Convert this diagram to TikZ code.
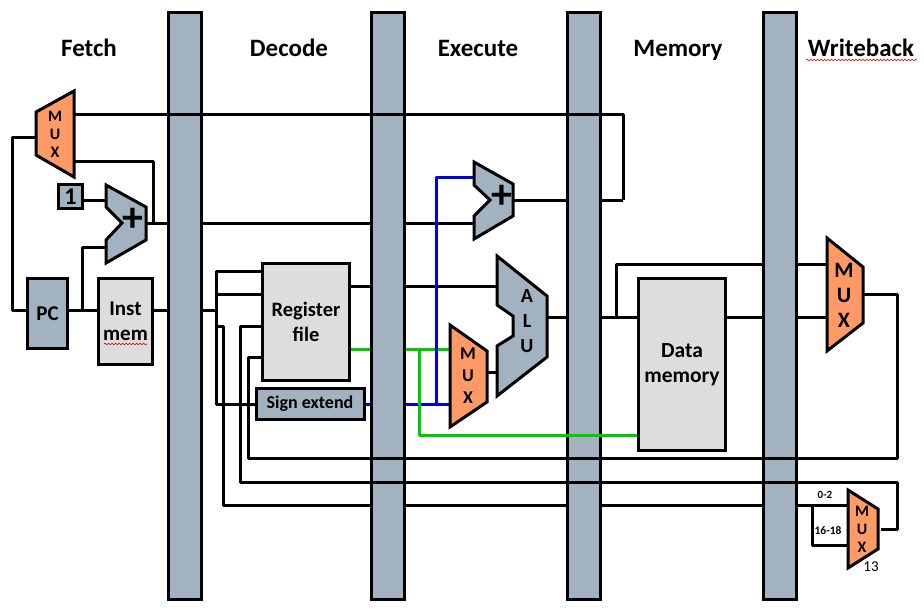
\documentclass[tikz,border=0pt]{standalone}
\usepackage{fontspec}
\setmainfont{Carlito}
\usetikzlibrary{decorations.pathmorphing}
\definecolor{slate}{HTML}{A3B2C1}
\definecolor{orng}{HTML}{FF9966}
\definecolor{lgray}{HTML}{DDDDDD}
\definecolor{grn}{HTML}{00CC00}
\definecolor{blu}{HTML}{0000E6}
\newcommand{\lowr}[1]{\raisebox{-2pt}{#1}}
\tikzset{
  wire/.style={draw=black,line width=3pt,line join=round},
  gwire/.style={draw=grn,line width=3pt,line join=round},
  bwire/.style={draw=blu,line width=3pt,line join=round},
  boxn/.style={draw=black,line width=3pt,inner sep=0pt,align=center,font=\bfseries},
  pipebar/.style={boxn,fill=slate,minimum width=33pt,minimum height=587pt},
  slatebox/.style={boxn,fill=slate},
  graybox/.style={boxn,fill=lgray},
  slatepoly/.style={draw=black,line width=3pt,fill=slate,line join=miter},
  orngpoly/.style={draw=black,line width=3pt,fill=orng,line join=miter},
  title/.style={inner sep=0pt,anchor=base,font=\fontsize{25}{27}\selectfont\bfseries},
  muxlabel/.style={inner sep=0pt,align=center,font=\bfseries},
  squiggle/.style={draw=red!80!black,line width=0.6pt,decorate,decoration={snake,amplitude=0.8pt,segment length=3.5pt}}
}
\begin{document}
\begin{tikzpicture}[x=1pt,y=-1pt]
\useasboundingbox (0,0) rectangle (924,611);
% ports
\coordinate (fmO) at (74,114);
\coordinate (fmA) at (74,161);
\coordinate (fmS) at (35,137);
\coordinate (faO) at (146,223);
\coordinate (faA) at (106,200);
\coordinate (faB) at (106,247);
\coordinate (eaA) at (474,177);
\coordinate (eaB) at (474,223);
\coordinate (eaO) at (513,200);
\coordinate (alA) at (497,286);
\coordinate (alB) at (497,372);
\coordinate (alO) at (547,317);
\coordinate (emA) at (450,349);
\coordinate (emB) at (450,404);
\coordinate (emO) at (487,372);
\coordinate (wmA) at (827,264);
\coordinate (wmB) at (827,317);
\coordinate (wmO) at (863,294);
\coordinate (smA) at (848,505);
\coordinate (smB) at (848,545);
\coordinate (smO) at (881,529);
\coordinate (j1) at (216,310);
\coordinate (j2) at (616,317);
\coordinate (j3) at (812,505);
\coordinate (j4) at (82,310);
\coordinate (j5) at (153,223);
\coordinate (j6) at (436,404);
\coordinate (j7) at (419,349);
% named blocks are placed first as empty reference nodes
\path node[minimum width=40pt,minimum height=70pt,inner sep=0pt,outer sep=0pt] (pc) at (47.5,313.5) {}
      node[minimum width=54pt,minimum height=86pt,inner sep=0pt,outer sep=0pt] (inst) at (125.5,321.5) {}
      node[minimum width=24pt,minimum height=24pt,inner sep=0pt,outer sep=0pt] (one) at (70.5,196.5) {}
      node[minimum width=87pt,minimum height=117pt,inner sep=0pt,outer sep=0pt] (reg) at (306,322) {}
      node[minimum width=108pt,minimum height=31pt,inner sep=0pt,outer sep=0pt] (sign) at (310,404) {}
      node[minimum width=87pt,minimum height=172pt,inner sep=0pt,outer sep=0pt] (dmem) at (682,364.5) {};
% connectors that pass behind the pipeline bars
\draw[wire] (faO) -- (faO -| 168,0);
\draw[wire] (fmA) -- (fmA -| j5) -- (j5);
\draw[wire] (fmS) -- (12,137) -- (12,310) -- (pc.west |- j1);
\draw[wire] (one.east |- faA) -- (faA);
\draw[wire] (pc.east |- j4) -- (inst.west |- j4);
\draw[wire] (j4) -- (j4 |- faB) -- (faB);
\draw[wire] (inst.east |- j1) -- (j1);
\draw[wire] (201,223) -- (eaB);
\draw[wire] (reg.west |- 0,271) -- (216,271) -- (216,404) -- (sign.west |- 0,404);
\draw[wire] (216,294) -- (reg.west |- 0,294);
\draw[wire] (216,326) -- (223,326) -- (223,505) -- (smA);
\draw[wire] (j3) -- (j3 |- smB) -- (smB);
\draw[wire] (reg.east |- alA) -- (alA);
\draw[wire] (eaO) -- (623,200);
\draw[wire] (alO) -- (dmem.west |- alO);
\draw[wire] (j2) -- (j2 |- wmA) -- (wmA);
\draw[wire] (dmem.east |- wmB) -- (wmB);
\draw[wire] (emO) -- (alB);
\draw[bwire] (sign.east |- emB) -- (emB);
\draw[gwire] (reg.east |- emA) -- (emA);
% pipeline bars
\node[pipebar] (bar1) at (185,305.5) {};
\node[pipebar] (bar2) at (388,305.5) {};
\node[pipebar] (bar3) at (584,305.5) {};
\node[pipebar] (bar4) at (780,305.5) {};
% connectors drawn over the bars
\draw[wire] (fmO) -- (623,114) -- (623,200);
\draw[wire] (reg.west |- 0,326) -- (240,326) -- (240,482) -- (897,482) -- (897,529) -- (smO);
\draw[wire] (reg.west |- 0,357) -- (248,357) -- (248,458) -- (897,458) -- (897,294) -- (wmO);
\draw[gwire] (j7) -- (419,435) -- (dmem.west |- 0,435);
\draw[bwire] (j6) -- (436,177) -- (eaA);
% blocks
\node[slatebox,minimum width=40pt,minimum height=70pt,font=\fontsize{21}{23}\selectfont\bfseries] at (pc) {\lowr{PC}};
\node[graybox,minimum width=54pt,minimum height=86pt,font=\fontsize{21}{25}\selectfont\bfseries] at (inst) {\lowr{Inst}\\\lowr{mem}};
\node[slatebox,minimum width=24pt,minimum height=24pt,font=\fontsize{24}{26}\selectfont\bfseries] at (one) {1};
\node[graybox,minimum width=87pt,minimum height=117pt,font=\fontsize{20.5}{25}\selectfont\bfseries] at (reg) {Register\\file};
\node[slatebox,minimum width=108pt,minimum height=31pt,font=\fontsize{18}{20}\selectfont\bfseries] at (sign) {Sign extend};
\node[graybox,minimum width=87pt,minimum height=172pt,font=\fontsize{21.5}{25}\selectfont\bfseries] at (dmem) {\lowr{Data}\\\lowr{memory}};
% mux and adder shapes
\draw[orngpoly] (36,112) -- (74,91) -- (74,177) -- (36,155) -- cycle;
\node[muxlabel,font=\fontsize{16}{18}\selectfont\bfseries] (fmux) at (55,134) {M\\U\\X};
\draw[slatepoly] (106,185) -- (146,207) -- (146,240) -- (106,263) -- (106,240) -- (122,223) -- (106,207) -- cycle;
\node[muxlabel,font=\fontsize{42}{42}\selectfont\bfseries] (fadd) at (133,220) {+};
\draw[slatepoly] (474,162) -- (513,184) -- (513,216) -- (474,239) -- (474,216) -- (490,200) -- (474,185) -- cycle;
\node[muxlabel,font=\fontsize{42}{42}\selectfont\bfseries] (eadd) at (502,197) {+};
\draw[slatepoly] (497,256) -- (547,296) -- (547,357) -- (497,396) -- (497,346) -- (513,336) -- (513,316) -- (497,305) -- cycle;
\node[muxlabel,font=\fontsize{20}{25}\selectfont\bfseries] (alu) at (527,321) {A\\L\\U};
\draw[orngpoly] (450,325) -- (487,351) -- (487,402) -- (450,427) -- cycle;
\node[muxlabel,font=\fontsize{18}{22}\selectfont\bfseries] (emux) at (468,376) {M\\U\\X};
\draw[orngpoly] (827,238) -- (863,267) -- (863,323) -- (827,351) -- cycle;
\node[muxlabel,font=\fontsize{22}{25}\selectfont\bfseries] (wmux) at (844,295) {M\\U\\X};
\draw[orngpoly] (848,490) -- (878,509) -- (878,549) -- (848,568) -- cycle;
\node[muxlabel,font=\fontsize{16}{18}\selectfont\bfseries] (smux) at (862,529) {M\\U\\X};
% titles
\node[title] (t1) at (89,56) {Fetch};
\node[title] (t2) at (289,56) {Decode};
\node[title] (t3) at (478,56) {Execute};
\node[title] (t4) at (678,56) {Memory};
\node[title] (t5) at (861,56) {Writeback};
% small labels
\node[inner sep=0pt,font=\fontsize{11}{12}\selectfont\bfseries] (l1) at (825,495) {0-2};
\node[inner sep=0pt,font=\fontsize{11.5}{12}\selectfont\bfseries] (l2) at (828,531) {16-18};
\node[inner sep=0pt,font=\fontsize{15}{16}\selectfont] (l3) at (871,567) {13};
% spell-check underlines
\draw[squiggle] (104,344) -- (147,344);
\draw[squiggle] (806,60) -- (917,60);
\end{tikzpicture}
\end{document}
